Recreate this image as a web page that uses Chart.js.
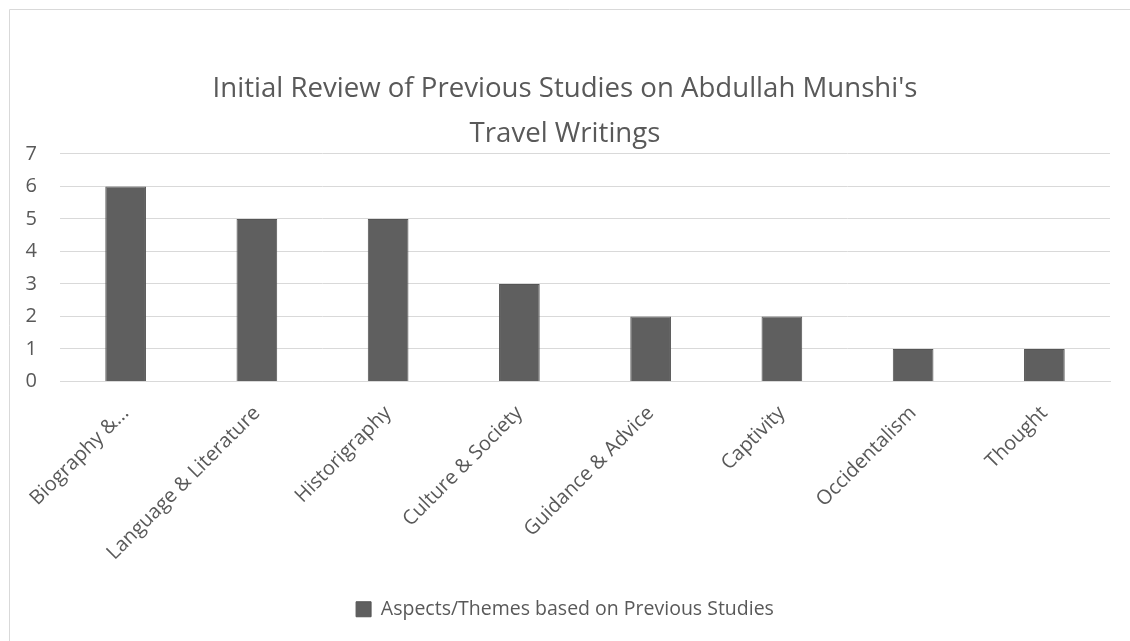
<!DOCTYPE html>
<html>
<head>
<meta charset="utf-8">
<script src="https://cdn.jsdelivr.net/npm/chart.js@4"></script>
<style>
  body { margin: 0; background: #fff; }
</style>
</head>
<body>
<canvas id="graphique" width="1130" height="641"></canvas>
<script>
// Donnees du graphique
const categories = ["Biography &...", "Language & Literature", "Historigraphy", "Culture & Society",
  "Guidance & Advice", "Captivity", "Occidentalism", "Thought"];
const valeurs = [6, 5, 5, 3, 2, 2, 1, 1];
const nomSerie = "Aspects/Themes based on Previous Studies";
const titre = ["Initial Review of Previous Studies on Abdullah Munshi's", "Travel Writings"];

const gris = "#595959";
const police = "'Open Sans', sans-serif";

// Cadre gris du graphique (haut et gauche)
const cadre = {
  id: "cadre",
  beforeDraw(chart) {
    const ctx = chart.ctx;
    ctx.save();
    ctx.strokeStyle = "#d9d9d9";
    ctx.lineWidth = 1;
    ctx.beginPath();
    ctx.moveTo(9.5, 641);
    ctx.lineTo(9.5, 9.5);
    ctx.lineTo(1130, 9.5);
    ctx.stroke();
    ctx.restore();
  }
};

new Chart(document.querySelector("#graphique"), {
  type: "bar",
  data: {
    labels: categories,
    datasets: [{
      label: nomSerie,
      data: valeurs,
      backgroundColor: "#5f5f5f",
      borderColor: "#555555",
      borderWidth: 1,
      barPercentage: 0.62,
      categoryPercentage: 0.5
    }]
  },
  options: {
    responsive: false,
    animation: false,
    layout: { padding: { left: 20, right: 20, top: 0, bottom: 12 } },
    plugins: {
      title: {
        display: true,
        text: titre,
        color: gris,
        font: { family: police, size: 27.6, weight: "normal", lineHeight: 1.63 },
        padding: { top: 67, bottom: -3 }
      },
      legend: {
        position: "bottom",
        labels: {
          color: gris,
          font: { family: police, size: 19.5 },
          boxWidth: 15,
          boxHeight: 15,
          padding: 10
        }
      },
      tooltip: { enabled: false }
    },
    scales: {
      x: {
        grid: { display: false },
        border: { color: "#d9d9d9" },
        ticks: {
          color: gris,
          font: { family: police, size: 20 },
          minRotation: 45,
          maxRotation: 45,
          autoSkip: false,
          padding: 12
        },
        afterFit(scale) { scale.height = 208; }
      },
      y: {
        min: 0,
        max: 7,
        grid: { color: "#d9d9d9", drawTicks: false },
        border: { display: false },
        ticks: {
          stepSize: 1,
          color: gris,
          font: { family: police, size: 20 },
          padding: 23
        },
        afterFit(scale) { scale.width = 40; }
      }
    }
  },
  plugins: [cadre]
});
</script>
</body>
</html>
